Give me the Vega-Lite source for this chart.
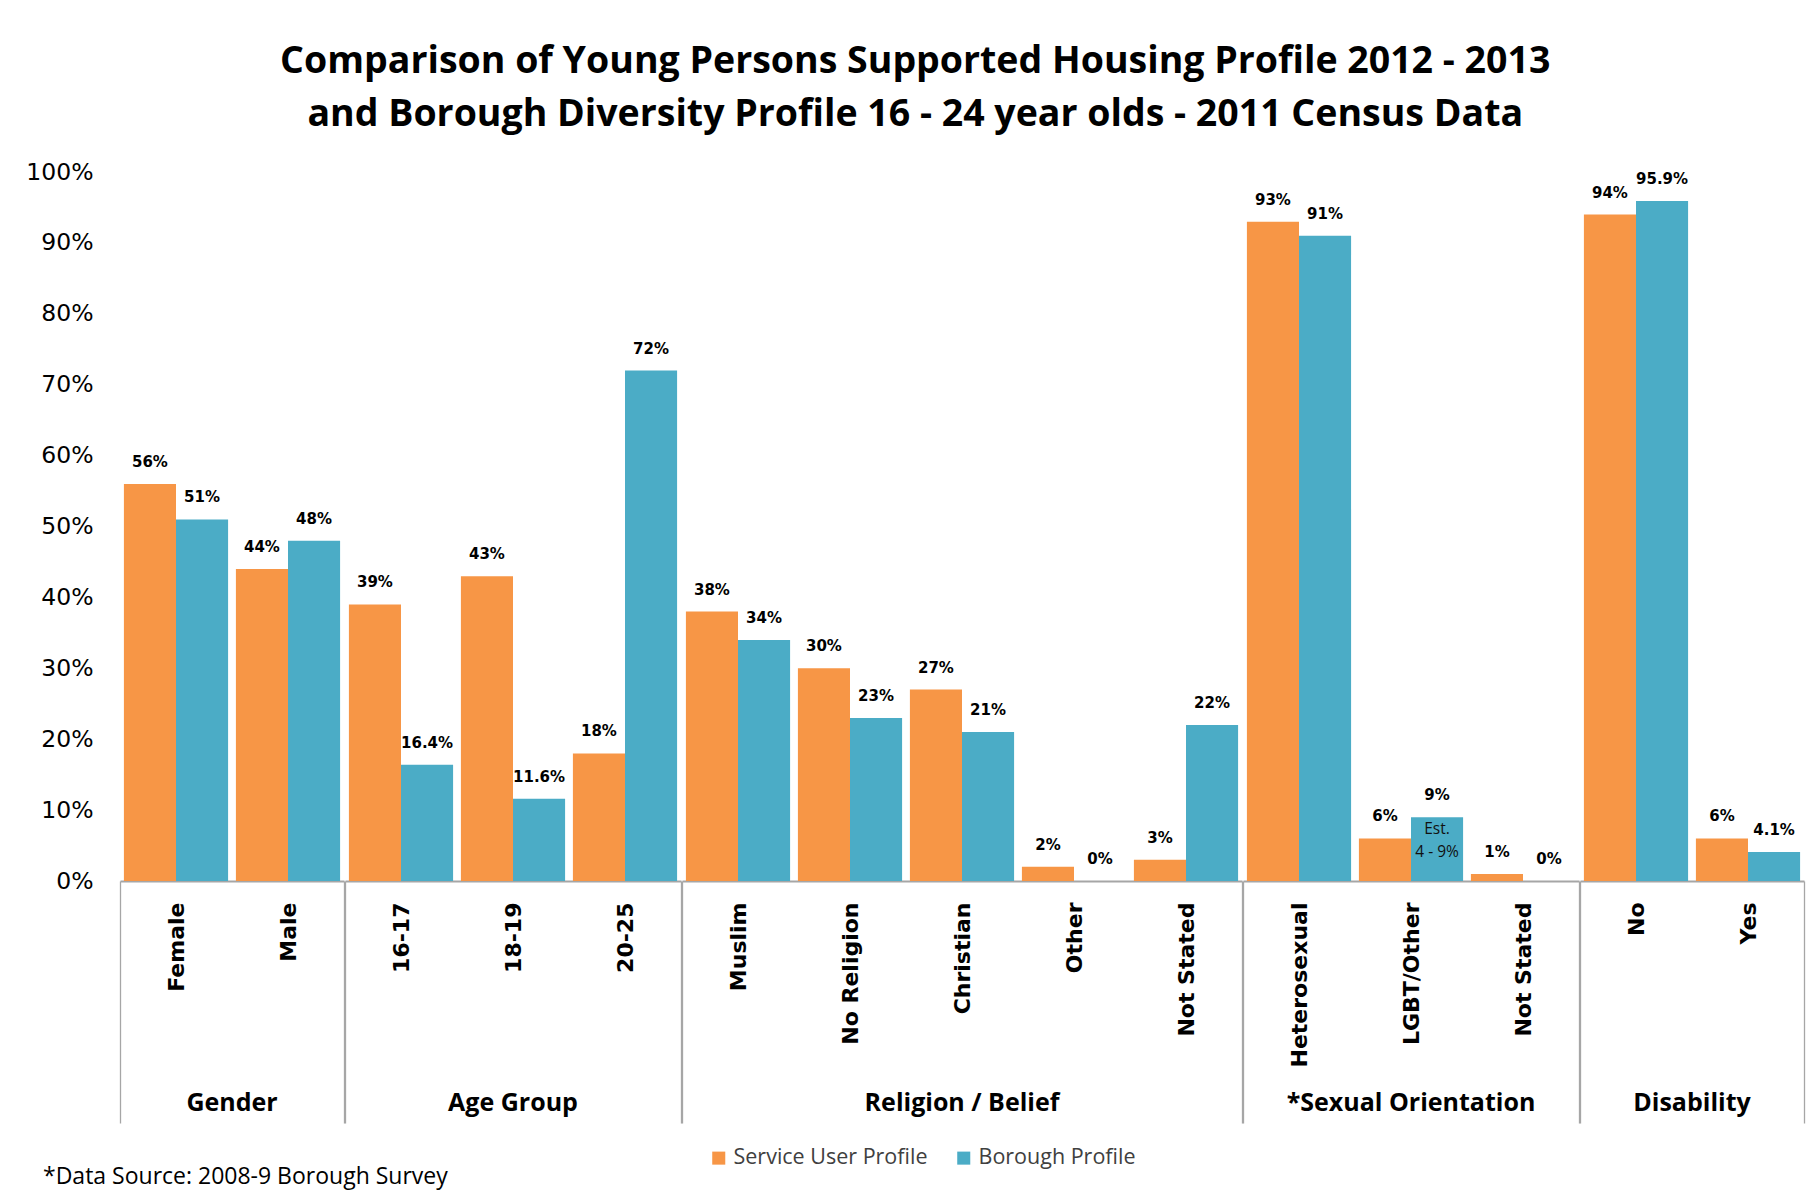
{
  "$schema": "https://vega.github.io/schema/vega-lite/v6.json",
  "padding": {"left": 25, "top": 42, "right": 6, "bottom": 8},
  "background": "white",
  "title": {
    "text": ["Comparison of Young Persons Supported Housing Profile 2012 - 2013", "and Borough Diversity Profile 16 - 24 year olds - 2011 Census Data"],
    "font": "Open Sans", "fontSize": 37.5, "fontWeight": "bold", "color": "black",
    "anchor": "middle", "frame": "bounds", "lineHeight": 53, "offset": 27
  },
  "data": {"values": [
    {"group": "Gender", "cat": "Female", "series": "Service User Profile", "value": 0.56},
    {"group": "Gender", "cat": "Female", "series": "Borough Profile", "value": 0.51},
    {"group": "Gender", "cat": "Male", "series": "Service User Profile", "value": 0.44},
    {"group": "Gender", "cat": "Male", "series": "Borough Profile", "value": 0.48},
    {"group": "Age Group", "cat": "16-17", "series": "Service User Profile", "value": 0.39},
    {"group": "Age Group", "cat": "16-17", "series": "Borough Profile", "value": 0.164},
    {"group": "Age Group", "cat": "18-19", "series": "Service User Profile", "value": 0.43},
    {"group": "Age Group", "cat": "18-19", "series": "Borough Profile", "value": 0.116},
    {"group": "Age Group", "cat": "20-25", "series": "Service User Profile", "value": 0.18},
    {"group": "Age Group", "cat": "20-25", "series": "Borough Profile", "value": 0.72},
    {"group": "Religion / Belief", "cat": "Muslim", "series": "Service User Profile", "value": 0.38},
    {"group": "Religion / Belief", "cat": "Muslim", "series": "Borough Profile", "value": 0.34},
    {"group": "Religion / Belief", "cat": "No Religion", "series": "Service User Profile", "value": 0.30},
    {"group": "Religion / Belief", "cat": "No Religion", "series": "Borough Profile", "value": 0.23},
    {"group": "Religion / Belief", "cat": "Christian", "series": "Service User Profile", "value": 0.27},
    {"group": "Religion / Belief", "cat": "Christian", "series": "Borough Profile", "value": 0.21},
    {"group": "Religion / Belief", "cat": "Other", "series": "Service User Profile", "value": 0.02},
    {"group": "Religion / Belief", "cat": "Other", "series": "Borough Profile", "value": 0.0},
    {"group": "Religion / Belief", "cat": "Not Stated", "series": "Service User Profile", "value": 0.03},
    {"group": "Religion / Belief", "cat": "Not Stated", "series": "Borough Profile", "value": 0.22},
    {"group": "*Sexual Orientation", "cat": "Heterosexual", "series": "Service User Profile", "value": 0.93},
    {"group": "*Sexual Orientation", "cat": "Heterosexual", "series": "Borough Profile", "value": 0.91},
    {"group": "*Sexual Orientation", "cat": "LGBT/Other", "series": "Service User Profile", "value": 0.06},
    {"group": "*Sexual Orientation", "cat": "LGBT/Other", "series": "Borough Profile", "value": 0.09, "note": "Est.\n4 - 9%"},
    {"group": "*Sexual Orientation", "cat": "Not Stated", "series": "Service User Profile", "value": 0.01},
    {"group": "*Sexual Orientation", "cat": "Not Stated", "series": "Borough Profile", "value": 0.0},
    {"group": "Disability", "cat": "No", "series": "Service User Profile", "value": 0.94},
    {"group": "Disability", "cat": "No", "series": "Borough Profile", "value": 0.959},
    {"group": "Disability", "cat": "Yes", "series": "Service User Profile", "value": 0.06},
    {"group": "Disability", "cat": "Yes", "series": "Borough Profile", "value": 0.041}
  ]},
  "facet": {
    "column": {
      "field": "group", "type": "nominal",
      "sort": ["Gender", "Age Group", "Religion / Belief", "*Sexual Orientation", "Disability"],
      "title": null,
      "header": {
        "labelOrient": "bottom", "labelFont": "Open Sans", "labelFontWeight": "bold", "labelFontSize": 25, "labelColor": "black", "labelPadding": -33, "labelBaseline": "top"
      }
    }
  },
  "spacing": -12,
  "align": "each",
  "bounds": "full",
  "resolve": {"scale": {"x": "independent", "xOffset": "independent"}},
  "spec": {
    "width": {"step": 112, "for": "position"},
    "height": 709,
    "encoding": {
      "x": {
        "field": "cat", "type": "nominal", "sort": null,
        "scale": {"paddingInner": 0, "paddingOuter": 0},
        "axis": {
          "title": null, "labelAngle": -90, "labelAlign": "right", "labelBaseline": "middle",
          "labelFont": "DejaVu Sans", "labelFontWeight": "bold", "labelFontSize": 22, "labelColor": "black",
          "labelPadding": -221,
          "domainColor": "#a6a6a6", "domainWidth": 2,
          "tickBand": "extent", "tickColor": "#a6a6a6", "tickWidth": 1.3, "tickSize": 242,
          "tickOpacity": {"condition": {"test": "datum.extra || indexof(['Male','20-25','Not Stated','Yes'], datum.value) >= 0", "value": 1}, "value": 0}
        }
      },
      "xOffset": {"field": "series", "type": "nominal", "sort": ["Service User Profile", "Borough Profile"], "scale": {"paddingInner": 0, "paddingOuter": 0.075}},
      "y": {
        "field": "value", "type": "quantitative",
        "scale": {"domain": [0, 1], "nice": false},
        "axis": {"title": null, "format": ".0%", "tickCount": 10, "grid": false, "domain": false, "ticks": false,
          "labelFont": "DejaVu Sans", "labelFontSize": 23.5, "labelColor": "black", "labelPadding": 16}
      }
    },
    "layer": [
      {
        "mark": {"type": "bar"},
        "encoding": {
          "color": {
            "field": "series", "type": "nominal",
            "scale": {"domain": ["Service User Profile", "Borough Profile"], "range": ["#F79646", "#4BACC6"]},
            "legend": {
              "orient": "none", "legendX": -77, "legendY": 975, "direction": "horizontal",
              "title": "*Data Source: 2008-9 Borough Survey", "titleOrient": "left", "titleFont": "Open Sans", "titleFontSize": 23,
              "titleFontWeight": "normal", "titleColor": "black", "titlePadding": 260, "titleBaseline": "line-top", "titleLineHeight": 38, "titleLimit": 800,
              "symbolType": "square", "symbolSize": 170, "symbolStrokeWidth": 0,
              "labelFont": "Open Sans", "labelFontSize": 21.5, "labelColor": "#404040", "labelLimit": 400, "columnPadding": 25}
          }
        }
      },
      {
        "mark": {"type": "text", "baseline": "bottom", "dy": -14, "font": "DejaVu Sans", "fontWeight": "bold", "fontSize": 15, "color": "black"},
        "encoding": {"text": {"field": "value", "type": "quantitative", "format": ".1~%"}}
      },
      {
        "transform": [{"filter": "datum.note"}],
        "mark": {"type": "text", "baseline": "top", "dy": 5, "lineBreak": "\n", "lineHeight": 23, "font": "Open Sans", "fontSize": 15.5, "color": "#111111"},
        "encoding": {"text": {"field": "note", "type": "nominal"}}
      }
    ]
  },
  "config": {
    "view": {"stroke": null}
  }
}
